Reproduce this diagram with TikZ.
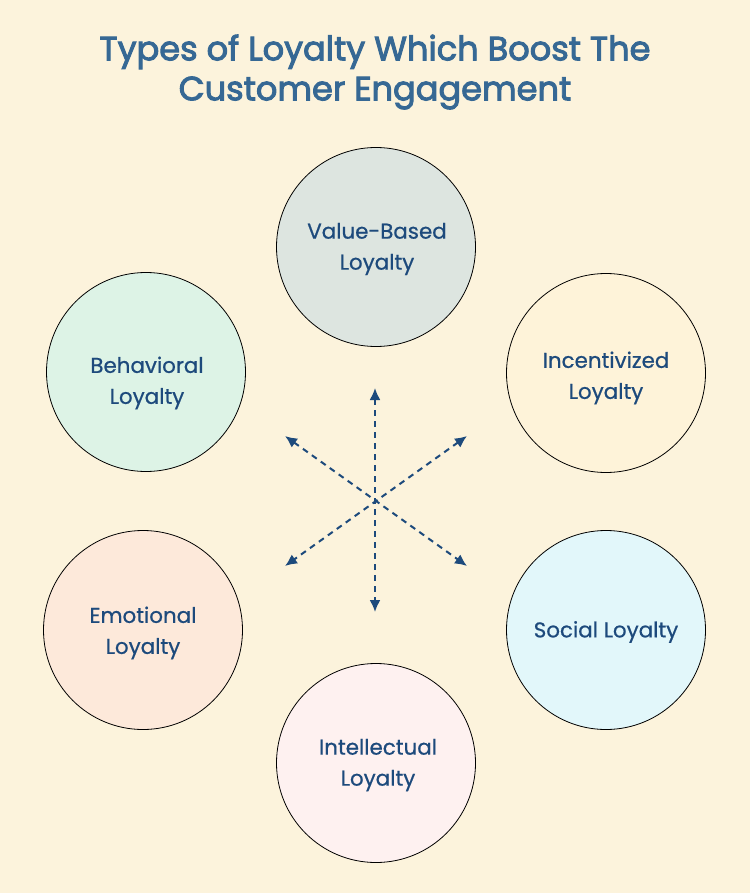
\documentclass[tikz,border=0pt]{standalone}
\usepackage{fontspec}
\setmainfont{Poppins}
\usetikzlibrary{arrows.meta}

\definecolor{paper}{HTML}{FCF3DC}
\definecolor{headblue}{HTML}{366894}
\definecolor{inkblue}{HTML}{1D4A7C}
\definecolor{fillvalue}{HTML}{DDE5E0}
\definecolor{fillbehav}{HTML}{DDF3E6}
\definecolor{fillincent}{HTML}{FEF3D9}
\definecolor{fillemot}{HTML}{FDE9DA}
\definecolor{fillsocial}{HTML}{E2F7FA}
\definecolor{fillintel}{HTML}{FEF1F0}

\tikzset{
    loyalty/.style={circle, draw=black, line width=0.8pt, minimum size=199pt,
        inner sep=0pt},
    loytext/.style={text=inkblue, align=center,
        font=\fontsize{21.4}{31}\selectfont\addfontfeature{FakeBold=0.6}},
    spoke/.style={draw=inkblue, line width=2pt, dash pattern=on 6pt off 5pt,
        {Latex[length=12pt,width=11pt]}-{Latex[length=12pt,width=11pt]}}
}

\begin{document}
\begin{tikzpicture}[x=1pt, y=-1pt]

\fill[paper] (0, 0) rectangle (750, 893);
\useasboundingbox (0, 0) rectangle (750, 893);

\node (title) at (375, 72) [text=headblue, align=center,
    font=\fontsize{33.6}{40}\selectfont\addfontfeature{FakeBold=2.8}]
    {Types of Loyalty Which Boost The\\Customer Engagement};

% the six circles
\node[loyalty, fill=fillvalue]  (value)  at (376, 247) {};
\node[loyalty, fill=fillbehav]  (behav)  at (146, 372) {};
\node[loyalty, fill=fillincent] (incent) at (606, 373) {};
\node[loyalty, fill=fillemot]   (emot)   at (143, 630) {};
\node[loyalty, fill=fillsocial] (social) at (606, 630) {};
\node[loyalty, fill=fillintel]  (intel)  at (376, 763) {};

% their labels
\node[loytext] (valuetext)  at (377, 249) {Value-Based\\Loyalty};
\node[loytext] (behavtext)  at (147, 383) {Behavioral\\Loyalty};
\node[loytext] (incenttext) at (606, 378) {Incentivized\\Loyalty};
\node[loytext] (emottext)   at (143, 633) {Emotional\\Loyalty};
\node[loytext] (socialtext) at (606, 632) {Social Loyalty};
\node[loytext] (inteltext)  at (378, 765) {Intellectual\\Loyalty};

% arrow ends
\coordinate (up)    at (375, 388);
\coordinate (down)  at (375, 612);
\coordinate (upl)   at (285, 436);
\coordinate (upr)   at (467, 436);
\coordinate (downl) at (285, 566);
\coordinate (downr) at (467, 566);

\draw[spoke] (up) -- (down);
\draw[spoke] (upl) -- (downr);
\draw[spoke] (upr) -- (downl);

\end{tikzpicture}
\end{document}
